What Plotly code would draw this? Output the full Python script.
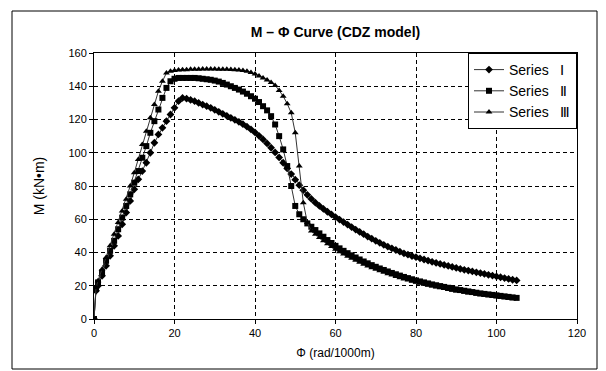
import plotly.graph_objects as go

phi = [0, 0.5] + list(range(1, 106))

series_1 = [0, 17, 20, 26, 32, 38, 44, 50, 57, 64, 71, 78, 84, 89, 94, 100, 106, 111, 115, 119, 123, 127, 131, 133,
            132.5, 131.8, 131, 130, 129, 128, 127, 125.8, 124.6, 123.4, 122.2, 121, 119.8, 118.6, 117.2, 115.7, 114,
            112.2, 110.2, 108, 105.6, 103, 100.2, 97.2, 94, 90.6, 87.2, 83.8, 80.5, 77.5, 74.7, 72.2, 70, 68, 66.2,
            64.5, 62.9, 61.3, 59.8, 58.3, 56.8, 55.3, 53.8, 52.4, 51, 49.6, 48.3, 47, 45.8, 44.6, 43.5, 42.5, 41.5,
            40.5, 39.5, 38.7, 37.9, 37.2, 36.5, 35.8, 35.1, 34.4, 33.7, 33.1, 32.5, 31.9, 31.3, 30.7, 30.1, 29.6,
            29.1, 28.6, 28.1, 27.6, 27.1, 26.6, 26.1, 25.6, 25.1, 24.6, 24.1, 23.6, 23.2]

series_2 = [0, 18, 22, 28, 35, 41, 47, 54, 61, 68, 75, 82, 89, 97, 104, 112, 119, 126, 133, 139, 143, 144.5, 145,
            145, 145, 145, 145, 144.8, 144.5, 144.2, 143.9, 143.4, 142.8, 142, 141, 140, 139, 138, 136.8, 135.5,
            134, 132.5, 130.5, 128, 125.5, 122, 117, 110, 102, 92, 80, 68, 63, 60, 57.5, 55.5, 53.5, 51.5, 49.5,
            47.5, 45.7, 44, 42.5, 41, 39.6, 38.3, 37, 35.8, 34.6, 33.5, 32.4, 31.4, 30.4, 29.5, 28.6, 27.7, 26.9,
            26.1, 25.3, 24.6, 23.9, 23.2, 22.6, 22, 21.4, 20.8, 20.3, 19.8, 19.3, 18.8, 18.3, 17.8, 17.4, 17, 16.6,
            16.2, 15.8, 15.4, 15.1, 14.8, 14.5, 14.2, 13.9, 13.6, 13.3, 13, 12.7]

series_3 = [0, 19, 23, 30, 37, 44, 51, 58, 65, 72, 80, 88, 96, 105, 113, 121, 129, 137, 143, 148, 149, 149.5, 149.8,
            150, 150, 150.2, 150.3, 150.3, 150.4, 150.4, 150.4, 150.4, 150.3, 150.3, 150.2, 150.1, 150, 149.8, 149.5,
            149, 148.3, 147.3, 146.2, 145, 143.8, 142.3, 140.5, 137.5, 134, 129.5, 124, 112, 92, 70, 58, 53, 51,
            49, 47.1, 45.3, 43.6, 42, 40.5, 39.1, 37.8, 36.5, 35.3, 34.1, 33, 31.9, 30.9, 29.9, 29, 28.1, 27.2, 26.4,
            25.6, 24.8, 24.1, 23.4, 22.7, 22.1, 21.5, 20.9, 20.3, 19.8, 19.3, 18.8, 18.3, 17.8, 17.3, 16.9, 16.5,
            16.1, 15.7, 15.3, 14.9, 14.6, 14.3, 14, 13.7, 13.4, 13.1, 12.8, 12.5, 12.2]

names = ["Series\u00a0\u00a0\u00a0Ⅰ", "Series\u00a0\u00a0\u00a0Ⅱ", "Series\u00a0\u00a0\u00a0Ⅲ"]
symbols = ["diamond", "square", "triangle-up"]
x_ticks = [0, 20, 40, 60, 80, 100, 120]
y_ticks = [0, 20, 40, 60, 80, 100, 120, 140, 160]

fig = go.Figure()
for ys, nm, sym in zip([series_1, series_2, series_3], names, symbols):
    fig.add_trace(go.Scatter(
        x=phi, y=ys, name=nm, mode="lines+markers",
        line=dict(color="#333333", width=1),
        marker=dict(symbol=sym, size=6, color="black"),
    ))

font_main = "Liberation Sans, Arial, sans-serif"
fig.update_layout(
    width=606, height=371,
    margin=dict(l=94, r=29, t=53, b=52),
    paper_bgcolor="white", plot_bgcolor="white",
    font=dict(family=font_main, size=11, color="black"),
    title=dict(text="<b>M – Φ Curve (CDZ model)</b>", x=0.5, xref="paper", xanchor="center",
               y=1 - 32 / 371, yanchor="middle", font=dict(size=14, family=font_main)),
    showlegend=True,
    legend=dict(x=1, y=1, xanchor="right", yanchor="top", bordercolor="black", borderwidth=1,
                bgcolor="white", font=dict(size=14), itemwidth=30),
    xaxis=dict(range=[0, 120], tickvals=x_ticks, showgrid=True, gridcolor="black", griddash="4px,3px",
               gridwidth=1, showline=True, linecolor="black", linewidth=1, mirror=True,
               ticks="outside", ticklen=4, tickcolor="black", zeroline=False,
               title=dict(text="Φ (rad/1000m)", font=dict(size=12), standoff=10),
               tickfont=dict(size=11)),
    yaxis=dict(range=[0, 160], tickvals=y_ticks, showgrid=True, gridcolor="black", griddash="4px,3px",
               gridwidth=1, showline=True, linecolor="black", linewidth=1, mirror=True,
               ticks="outside", ticklen=4, tickcolor="black", zeroline=False,
               title=dict(text="M (kN•m)", font=dict(size=14), standoff=20),
               tickfont=dict(size=11)),
)

fig.add_shape(type="rect", xref="paper", yref="paper",
              x0=(12 - 94) / 483, x1=(597 - 94) / 483,
              y0=(319 - 369) / 266, y1=(319 - 11) / 266,
              line=dict(color="black", width=1), fillcolor="rgba(0,0,0,0)", layer="below")

fig.write_html("out.html", config={"displayModeBar": False},
               post_script="document.body.style.margin='0';document.body.style.overflow='hidden';")
